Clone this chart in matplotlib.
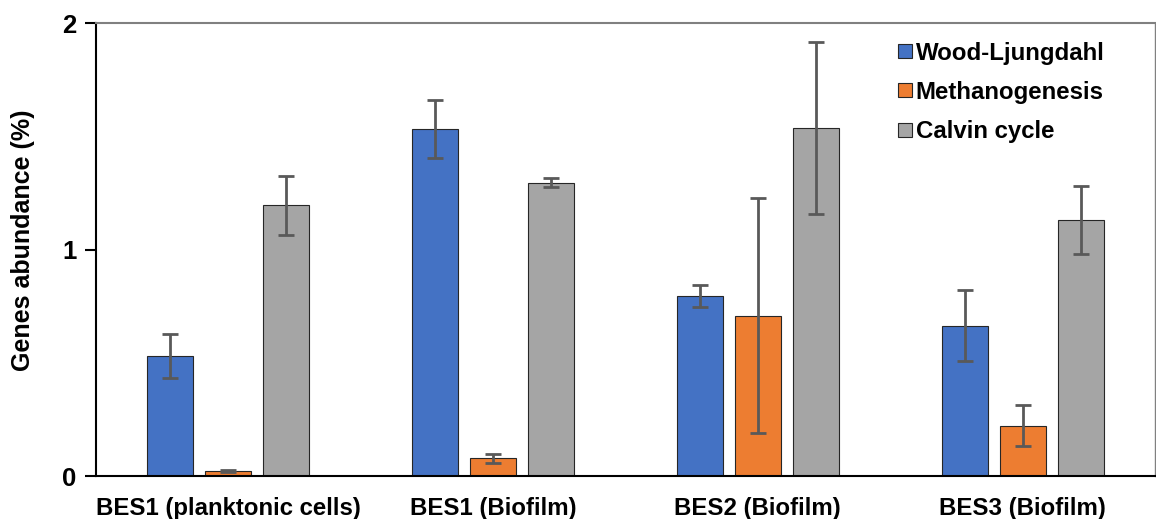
import matplotlib
matplotlib.use("Agg")
import matplotlib.pyplot as plt
import numpy as np

categories = ["BES1 (planktonic cells)", "BES1 (Biofilm)", "BES2 (Biofilm)", "BES3 (Biofilm)"]
series_names = ["Wood-Ljungdahl", "Methanogenesis", "Calvin cycle"]
wood = [0.530, 1.532, 0.795, 0.664]
wood_err = [0.099, 0.13, 0.05, 0.157]
meth = [0.023, 0.079, 0.708, 0.222]
meth_err = [0.004, 0.02, 0.52, 0.091]
calvin = [1.195, 1.294, 1.535, 1.129]
calvin_err = [0.13, 0.02, 0.38, 0.15]
yticks = [0, 1, 2]

colors = ["#4472C4", "#ED7D31", "#A5A5A5"]

plt.rcParams['font.family'] = ['Liberation Sans', 'DejaVu Sans']
plt.rcParams['font.weight'] = 'bold'

fig = plt.figure(figsize=(11.56, 5.19), dpi=100)
ax = fig.add_axes([96/1156, 43/519, 1059/1156, 453/519])

x = np.arange(len(categories))
width = 0.174
step = 0.219
vals = [wood, meth, calvin]
errs = [wood_err, meth_err, calvin_err]
for i, (v, e, c, n) in enumerate(zip(vals, errs, colors, series_names)):
    ax.bar(x + (i - 1) * step, v, width, color=c, edgecolor="#262626", linewidth=0.8, label=n, zorder=2)
    ax.errorbar(x + (i - 1) * step, v, yerr=e, fmt='none', ecolor="#595959", elinewidth=2,
                capsize=6, capthick=2, zorder=3)

ax.set_xlim(-0.5, 3.5)
ax.set_ylim(0, 2)
ax.set_yticks(yticks)
ax.set_yticklabels([str(t) for t in yticks], fontsize=18.5, fontweight='bold')
ax.set_xticks(x)
ax.set_xticklabels(categories, fontsize=17.3, fontweight='bold')
ax.tick_params(axis='x', length=0, pad=15)
ax.tick_params(axis='y', length=8, width=1.5, direction='out', pad=6)
ax.set_ylabel("Genes abundance (%)", fontsize=18, fontweight='bold')
ax.yaxis.set_label_coords(-0.058, 0.521)

ax.spines['left'].set_linewidth(1.5)
ax.spines['bottom'].set_linewidth(1.5)
ax.spines['top'].set_color("#808080")
ax.spines['top'].set_linewidth(1.5)
ax.spines['right'].set_color("#808080")
ax.spines['right'].set_linewidth(1.0)

leg = ax.legend(loc='upper left', bbox_to_anchor=(0.748, 0.98), frameon=False,
                prop={'size': 17.3, 'weight': 'bold'}, handlelength=0.58, handleheight=0.52,
                handletextpad=0.17, labelspacing=0.68, borderaxespad=0)

fig.savefig("out.png", dpi=100)
